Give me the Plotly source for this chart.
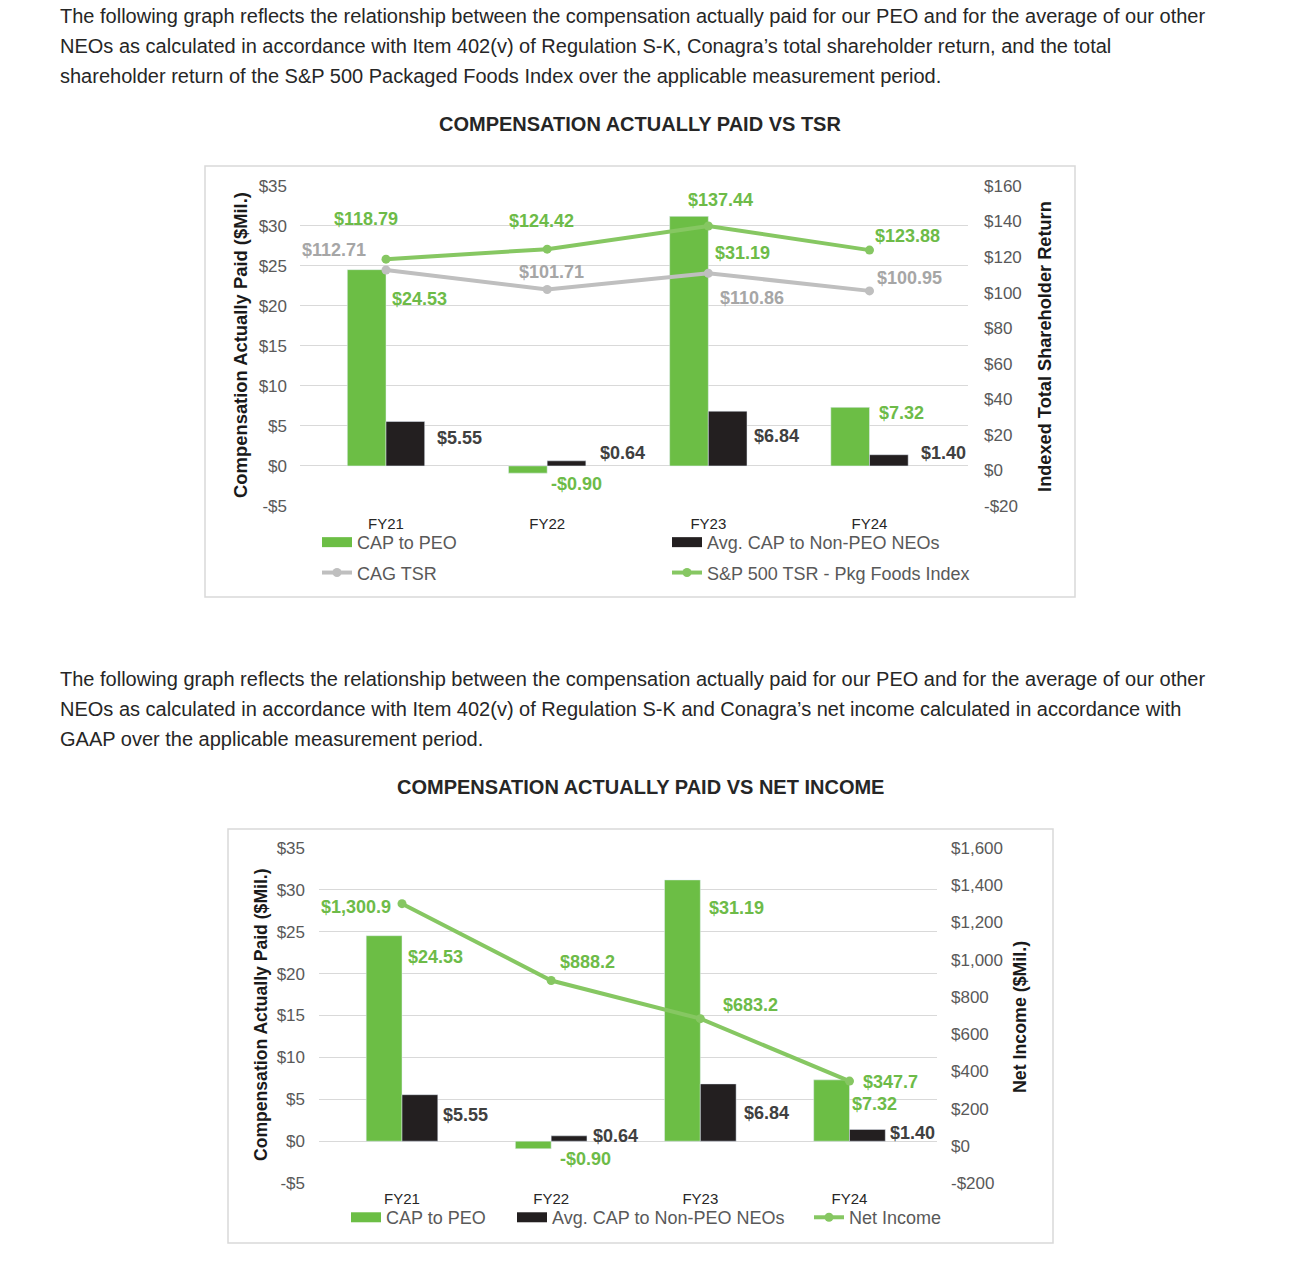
import plotly.graph_objects as go

# ---------------- data ----------------
categories = ["FY21", "FY22", "FY23", "FY24"]
cap_peo = [24.53, -0.90, 31.19, 7.32]
cap_neo = [5.55, 0.64, 6.84, 1.40]
cag_tsr = [112.71, 101.71, 110.86, 100.95]
sp_tsr = [118.79, 124.42, 137.44, 123.88]
net_income = [1300.9, 888.2, 683.2, 347.7]

cap_ticks = [-5, 0, 5, 10, 15, 20, 25, 30, 35]
tsr_ticks = [-20, 0, 20, 40, 60, 80, 100, 120, 140, 160]
ni_ticks = [-200, 0, 200, 400, 600, 800, 1000, 1200, 1400, 1600]

para1 = [
    "The following graph reflects the relationship between the compensation actually paid for our PEO and for the average of our other",
    "NEOs as calculated in accordance with Item 402(v) of Regulation S-K, Conagra\u2019s total shareholder return, and the total",
    "shareholder return of the S&P 500 Packaged Foods Index over the applicable measurement period.",
]
para2 = [
    "The following graph reflects the relationship between the compensation actually paid for our PEO and for the average of our other",
    "NEOs as calculated in accordance with Item 402(v) of Regulation S-K and Conagra\u2019s net income calculated in accordance with",
    "GAAP over the applicable measurement period.",
]
title1 = "COMPENSATION ACTUALLY PAID VS TSR"
title2 = "COMPENSATION ACTUALLY PAID VS NET INCOME"


def money(v, d=0):
    s = f"{abs(v):,.{d}f}"
    return ("-$" if v < 0 else "$") + s


# ---------------- style ----------------
W, H = 1290, 1274
# measured vertical mapping of the photographed page: shown_y = OFF + SC * page_y
OFF, SC = 9.15, 0.9849
FONT = "Liberation Sans, Arial, Helvetica, sans-serif"
GREEN_BAR = "#6CBE45"
GREEN_LINE = "#86C762"
GREEN_TXT = "#6DBB48"
BLACK_BAR = "#231F20"
BLACK_TXT = "#404040"
GRAY_LINE = "#BFBFBF"
GRAY_TXT = "#A6A6A6"
TICK_TXT = "#595959"
GRID = "#D9D9D9"
TEXT = "#262626"


def px(x):
    return x / W


def py(y):
    return 1 - ((y - OFF) / SC) / H


fig = go.Figure()

# ---------- chart 1 ----------
fig.add_trace(go.Bar(x=categories, y=cap_peo, name="CAP to PEO", marker_color=GREEN_BAR,
                     xaxis="x", yaxis="y", showlegend=False, offsetgroup="a"))
fig.add_trace(go.Bar(x=categories, y=cap_neo, name="Avg. CAP to Non-PEO NEOs", marker_color=BLACK_BAR,
                     xaxis="x", yaxis="y", showlegend=False, offsetgroup="b"))
fig.add_trace(go.Scatter(x=categories, y=cag_tsr, name="CAG TSR", mode="lines+markers",
                         line=dict(color=GRAY_LINE, width=4), marker=dict(size=9, color=GRAY_LINE),
                         xaxis="x", yaxis="y2", showlegend=False))
fig.add_trace(go.Scatter(x=categories, y=sp_tsr, name="S&P 500 TSR - Pkg Foods Index", mode="lines+markers",
                         line=dict(color=GREEN_LINE, width=4), marker=dict(size=9, color=GREEN_LINE),
                         xaxis="x", yaxis="y2", showlegend=False))


def legend_entry(name, color, legend, group, marker=False, width=4):
    fig.add_trace(go.Scatter(x=[None], y=[None], name=name,
                             mode="lines+markers" if marker else "lines",
                             line=dict(color=color, width=width),
                             marker=dict(size=9, color=color),
                             legend=legend, legendgroup=group, xaxis="x", yaxis="y"))


legend_entry("CAP to PEO", GREEN_BAR, "legend", "g1", width=10)
legend_entry("CAG TSR", GRAY_LINE, "legend", "g2", marker=True)
legend_entry("Avg. CAP to Non-PEO NEOs", BLACK_BAR, "legend2", "g3", width=10)
legend_entry("S&P 500 TSR - Pkg Foods Index", GREEN_LINE, "legend2", "g4", marker=True)

# ---------- chart 2 ----------
fig.add_trace(go.Bar(x=categories, y=cap_peo, name="CAP to PEO", marker_color=GREEN_BAR,
                     xaxis="x2", yaxis="y3", showlegend=False, offsetgroup="a"))
fig.add_trace(go.Bar(x=categories, y=cap_neo, name="Avg. CAP to Non-PEO NEOs", marker_color=BLACK_BAR,
                     xaxis="x2", yaxis="y3", showlegend=False, offsetgroup="b"))
fig.add_trace(go.Scatter(x=categories, y=net_income, name="Net Income", mode="lines+markers",
                         line=dict(color=GREEN_LINE, width=4), marker=dict(size=9, color=GREEN_LINE),
                         xaxis="x2", yaxis="y4", showlegend=False))

legend_entry("CAP to PEO", GREEN_BAR, "legend3", "h1", width=10)
legend_entry("Avg. CAP to Non-PEO NEOs", BLACK_BAR, "legend4", "h2", width=10)
legend_entry("Net Income", GREEN_LINE, "legend5", "h3", marker=True)

# ---------- annotations ----------
ann = []
for i, line in enumerate(para1):
    ann.append(dict(text=line, x=px(58), y=py(16 + 30 * i), xref="paper", yref="paper",
                    xanchor="left", yanchor="middle", showarrow=False,
                    font=dict(size=20, color=TEXT, family=FONT)))
for i, line in enumerate(para2):
    ann.append(dict(text=line, x=px(58), y=py(679 + 30 * i), xref="paper", yref="paper",
                    xanchor="left", yanchor="middle", showarrow=False,
                    font=dict(size=20, color=TEXT, family=FONT)))
ann.append(dict(text=f"<b>{title1}</b>", x=px(640), y=py(124), xref="paper", yref="paper",
                xanchor="center", yanchor="middle", showarrow=False,
                font=dict(size=20, color=TEXT, family=FONT)))
ann.append(dict(text=f"<b>{title2}</b>", x=px(640), y=py(787), xref="paper", yref="paper",
                xanchor="center", yanchor="middle", showarrow=False,
                font=dict(size=20, color=TEXT, family=FONT)))


def vtitle(text, x, y, size=18):
    ann.append(dict(text=f"<b>{text}</b>", x=px(x), y=py(y), xref="paper", yref="paper",
                    xanchor="center", yanchor="middle", textangle=-90, showarrow=False,
                    font=dict(size=size, color="#1a1a1a", family=FONT)))


vtitle("Compensation Actually Paid ($Mil.)", 241, 345, 18.4)
vtitle("Indexed Total Shareholder Return", 1045, 347, 18.2)
vtitle("Compensation Actually Paid ($Mil.)", 261, 1015, 17.6)
vtitle("Net Income ($Mil.)", 1020, 1017, 17.8)


def labels(values, yref, xref, offsets, color, d, size=18):
    for c, v, (dx, dy) in zip(categories, values, offsets):
        ann.append(dict(text=f"<b>{money(v, d)}</b>", x=c, y=v, xref=xref, yref=yref,
                        xshift=dx, yshift=-dy / SC, showarrow=False,
                        xanchor="center", yanchor="middle",
                        font=dict(size=size, color=color, family=FONT)))


labels(sp_tsr, "y2", "x", [(-20, -40), (-6, -28), (12, -26), (38, -14)], GREEN_TXT, 2)
labels(cag_tsr, "y2", "x", [(-52, -20), (4, -17), (44, 24), (40, -13)], GRAY_TXT, 2)
labels(cap_peo, "y", "x", [(33, 29), (29, 11), (34, 36), (32, 6)], GREEN_TXT, 2)
labels(cap_neo, "y", "x", [(73, 16), (75, -8), (68, 24), (74, -2)], BLACK_TXT, 2)

labels(net_income, "y4", "x2", [(-46, 3), (36, -18), (50, -13), (41, 1)], GREEN_TXT, 1)
labels(cap_peo, "y3", "x2", [(33, 21), (34, 10), (36, 28), (25, 24)], GREEN_TXT, 2)
labels(cap_neo, "y3", "x2", [(63, 20), (64, 0), (66, 29), (63, 3)], BLACK_TXT, 2)

# chart frames
shapes = [
    dict(type="rect", xref="paper", yref="paper", x0=px(205), x1=px(1075), y0=py(597), y1=py(166),
         line=dict(color="#D9D9D9", width=1.5), fillcolor="rgba(0,0,0,0)", layer="below"),
    dict(type="rect", xref="paper", yref="paper", x0=px(228), x1=px(1053), y0=py(1243), y1=py(829),
         line=dict(color="#D9D9D9", width=1.5), fillcolor="rgba(0,0,0,0)", layer="below"),
]

tickfont = dict(size=17, color=TICK_TXT, family=FONT)
catfont = dict(size=15, color=TEXT, family=FONT)
legfont = dict(size=18, color=TICK_TXT, family=FONT)


def leg(x, y):
    return dict(x=px(x), y=py(y), xref="paper", yref="paper", xanchor="left", yanchor="top",
                font=legfont, bgcolor="rgba(0,0,0,0)", tracegroupgap=4, orientation="v")


fig.update_layout(
    width=W, height=H,
    margin=dict(l=0, r=0, t=0, b=0),
    paper_bgcolor="white", plot_bgcolor="white",
    font=dict(family=FONT),
    barmode="group", bargap=0.52, bargroupgap=0,
    xaxis=dict(domain=[px(300), px(968)], anchor="y", type="category", showgrid=False,
               showline=False, ticks="", tickfont=catfont, ticklabelstandoff=7),
    yaxis=dict(domain=[py(506), py(186)], anchor="x", range=[-5, 35],
               tickvals=cap_ticks, ticktext=[money(v) for v in cap_ticks],
               showgrid=True, gridcolor=GRID, gridwidth=1, zeroline=False, showline=False,
               tickfont=tickfont, ticklabelstandoff=12),
    yaxis2=dict(overlaying="y", side="right", anchor="x", range=[-20, 160],
                tickvals=tsr_ticks, ticktext=[money(v) for v in tsr_ticks],
                showgrid=False, zeroline=False, showline=False,
                tickfont=tickfont, ticklabelstandoff=15),
    xaxis2=dict(domain=[px(319), px(937)], anchor="y3", type="category", showgrid=False,
                showline=False, ticks="", tickfont=catfont, ticklabelstandoff=5),
    yaxis3=dict(domain=[py(1183), py(848)], anchor="x2", range=[-5, 35],
                tickvals=cap_ticks, ticktext=[money(v) for v in cap_ticks],
                showgrid=True, gridcolor=GRID, gridwidth=1, zeroline=False, showline=False,
                tickfont=tickfont, ticklabelstandoff=13),
    yaxis4=dict(overlaying="y3", side="right", anchor="x2", range=[-200, 1600],
                tickvals=ni_ticks, ticktext=[money(v) for v in ni_ticks],
                showgrid=False, zeroline=False, showline=False,
                tickfont=tickfont, ticklabelstandoff=13),
    legend=leg(317, 524),
    legend2=leg(667, 524),
    legend3=leg(346, 1199),
    legend4=leg(512, 1199),
    legend5=leg(809, 1199),
    annotations=ann,
    shapes=shapes,
)

fig.write_html("out.html", config={"displayModeBar": False},
               post_script="document.body.style.margin='0';")
